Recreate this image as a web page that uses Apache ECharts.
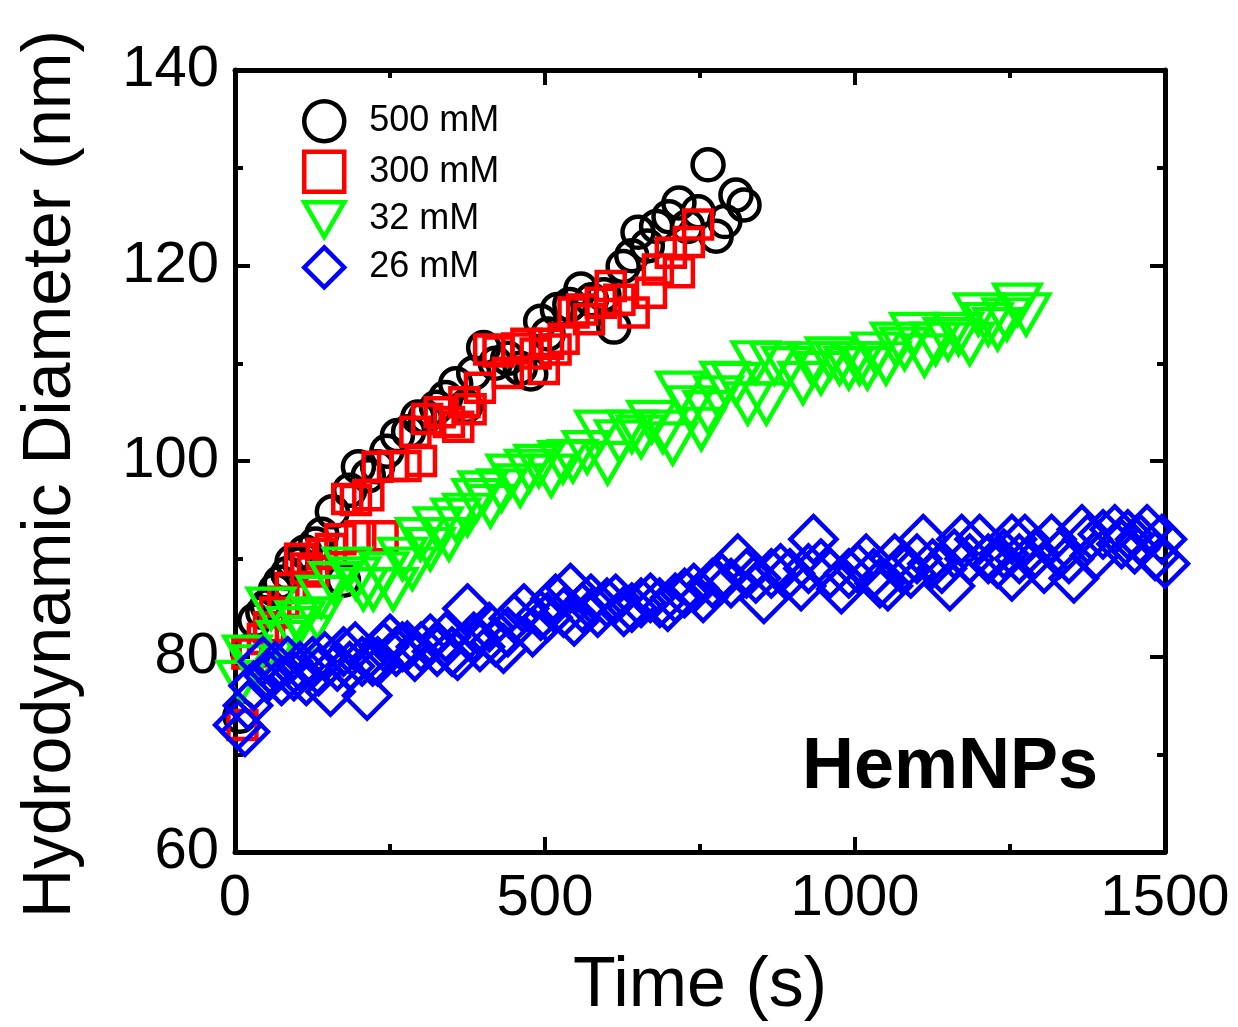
<!DOCTYPE html>
<html>
<head>
<meta charset="utf-8">
<script src="https://cdn.jsdelivr.net/npm/echarts@6/dist/echarts.min.js"></script>
<style>html,body{margin:0;padding:0;background:#fff}#c{width:1238px;height:1027px}</style>
</head>
<body>
<div id="c"></div>
<script>
const seriesNames = ['500 mM', '300 mM', '32 mM', '26 mM'];
const xTicks = [0, 500, 1000, 1500];
const yTicks = [60, 80, 100, 120, 140];

const data500 = [[8,73.9],[20,80.5],[32,83.7],[45,84.5],[52,85.2],[65,86.8],[73,87.6],[85,88.5],[92,89.7],[105,89.5],[113,90.7],[130,91.5],[140,92.5],[157,94.8],[175,87.8],[185,97],[199,99.4],[215,98.5],[230,99.4],[245,101],[262,102.6],[280,103],[295,104.5],[307,104.5],[325,105.5],[340,106.5],[356,107.9],[372,105.6],[385,109],[401,111.6],[420,110],[440,110.5],[460,109.5],[477,108.9],[493,114.3],[505,113],[520,115.5],[540,116],[558,117.6],[575,116.5],[595,117],[611,113.7],[626,119.9],[640,121],[650,123.4],[665,122],[680,124],[700,125],[716,126.4],[730,124],[747,125.5],[763,130.3],[776,123],[790,124.5],[808,127.2],[821,126.2]];

const data300 = [[12,73],[20,80.3],[30,80.5],[45,81.8],[55,83],[65,84.5],[78,85.6],[90,87],[105,90],[115,89],[126,88.7],[140,90.5],[155,91],[170,92],[181,96.1],[195,96],[202,92.3],[215,96.5],[230,99.4],[238,92.3],[255,99.5],[275,99.5],[291,103],[300,100],[310,104.3],[330,105],[345,104],[360,103.5],[370,106],[380,105.3],[395,107.5],[410,111.4],[425,111.2],[440,109],[455,111.5],[470,112],[485,111],[498,109.4],[505,112],[517,111.4],[530,112.5],[546,115.2],[560,115.5],[571,114.5],[590,116.2],[606,117.9],[620,116.5],[643,115.2],[671,117.2],[682,119.6],[703,121.3],[716,119.3],[732,122.4],[747,124.2]];

const data32 = [[10,77.4],[20,80],[37,79],[58,84.9],[75,81.5],[91,82.9],[105,83.5],[116,82],[133,83.9],[139,86.1],[160,87.5],[181,89],[195,88],[207,86.9],[223,86.9],[240,88.5],[255,86.9],[270,90],[286,89],[299,92],[315,91],[328,93.1],[345,92],[356,94],[375,94.5],[390,96],[400,96.8],[412,95.4],[430,97],[445,98.5],[460,97.5],[475,99],[490,99.5],[510,98.5],[529,99.9],[545,100],[568,100.9],[588,103],[601,99.8],[620,102],[640,103],[655,102.5],[672,104],[690,103],[706,101.8],[719,107],[735,105.5],[752,103.3],[763,105],[780,106.5],[790,108],[808,107.9],[827,105.9],[840,110.1],[857,105.9],[870,110],[890,109.5],[916,108],[930,110],[945,109],[960,110.5],[975,110],[990,109.5],[1007,110],[1020,109.5],[1034,111],[1050,110],[1065,112],[1080,111.5],[1096,113],[1112,110.8],[1130,112],[1150,112.5],[1167,113],[1185,112],[1199,115],[1215,114],[1230,113.5],[1245,114.5],[1262,116],[1276,115]];

const data26 = [[5,73],[16,72.3],[21,75],[30,77],[45,79.5],[55,78],[65,79],[75,77.5],[85,79.5],[95,78],[105,79],[115,77.5],[125,79.5],[135,78.5],[145,80],[154,76.4],[165,79],[175,80.5],[185,79],[194,81],[205,79.5],[213,76],[222,79.5],[230,79.5],[240,81],[250,81.8],[260,80.5],[270,81],[278,81.1],[290,80],[300,81],[315,81.8],[326,80.5],[340,82],[350,80.5],[359,80.1],[375,84.9],[385,82],[395,81],[410,83],[420,81.5],[433,80.8],[440,82.5],[450,83.9],[466,84.9],[480,82.5],[493,84.2],[504,84],[517,85.9],[530,84.5],[541,87],[547,83.6],[560,85],[574,85.9],[585,84.5],[600,85.5],[614,85.9],[627,84.6],[640,85],[655,85.5],[670,86],[685,85.5],[698,85.1],[710,86],[725,86.5],[740,87],[755,86],[770,87.5],[785,88],[800,87.5],[811,90],[825,88.5],[840,88],[853,85.9],[865,88.5],[880,89],[895,88.5],[913,87.2],[925,89],[933,92],[945,89.5],[960,88.5],[978,86.9],[990,88.5],[1005,89],[1018,90],[1030,88.5],[1040,87.5],[1053,87.2],[1064,90],[1075,89],[1090,88.5],[1100,90],[1110,92],[1125,89.5],[1140,89],[1153,87.2],[1160,90.5],[1172,92],[1185,90],[1201,92],[1215,90],[1230,89.5],[1240,90.5],[1253,92],[1253,88.2],[1265,90],[1274,92],[1290,90.5],[1305,89],[1317,92],[1330,90.5],[1345,90],[1353,88],[1366,93],[1375,92],[1387,90.3],[1400,92.5],[1419,93],[1430,91.5],[1440,92.5],[1451,91],[1460,92],[1471,93],[1484,90.3],[1495,92],[1500,89.5]];

const FONT = '"Liberation Sans", Arial, sans-serif';
const chart = echarts.init(document.getElementById('c'), null, {renderer: 'canvas'});

function xAxisDef(pos, showLabel) {
  return {
    type: 'value', position: pos, min: xTicks[0], max: xTicks[xTicks.length-1], interval: 500,
    axisLine: {show: true, onZero: false, lineStyle: {color: '#000', width: 5}},
    axisTick: {show: true, inside: true, length: 15, lineStyle: {color: '#000', width: 4}},
    minorTick: {show: true, splitNumber: 2, length: 8, lineStyle: {color: '#000', width: 4}},
    splitLine: {show: false},
    axisLabel: {show: showLabel, fontSize: 58, color: '#000', margin: 18, fontFamily: FONT, showMinLabel: true, showMaxLabel: true,
      formatter: function (v) { return String(v); }},
    name: showLabel ? 'Time (s)' : '', nameLocation: 'middle', nameGap: 100,
    nameTextStyle: {fontSize: 70, color: '#000', fontFamily: FONT}
  };
}
function yAxisDef(pos, showLabel) {
  return {
    type: 'value', position: pos, min: yTicks[0], max: yTicks[yTicks.length-1], interval: 20,
    axisLine: {show: true, onZero: false, lineStyle: {color: '#000', width: 5}},
    axisTick: {show: true, inside: true, length: 15, lineStyle: {color: '#000', width: 4}},
    minorTick: {show: true, splitNumber: 2, length: 8, lineStyle: {color: '#000', width: 4}},
    splitLine: {show: false},
    axisLabel: {show: showLabel, fontSize: 58, color: '#000', margin: 16, fontFamily: FONT, showMinLabel: true, showMaxLabel: true,
      formatter: function (v) { return String(v); }},
    name: showLabel ? 'Hydrodynamic Diameter (nm)' : '', nameLocation: 'middle', nameGap: 150,
    nameTextStyle: {fontSize: 68, color: '#000', fontFamily: FONT, padding: [0, 26, 0, 0]}
  };
}

const triDown = 'path://M0,0L10,0L5,8.66Z';

function sc(name, data, symbol, size, color) {
  return {
    name: name, type: 'scatter', data: data, symbol: symbol, symbolSize: size,
    xAxisIndex: 0, yAxisIndex: 0,
    itemStyle: {color: 'rgba(255,255,255,0)', borderColor: color, borderWidth: 4.5, opacity: 1},
    emphasis: {disabled: true}
  };
}

chart.setOption({
  animation: false,
  backgroundColor: '#fff',
  grid: {left: 235, right: 73, top: 70, bottom: 173, containLabel: false},
  xAxis: [xAxisDef('bottom', true), xAxisDef('top', false)],
  yAxis: [yAxisDef('left', true), yAxisDef('right', false)],
  legend: {
    show: true, orient: 'vertical', left: 297, top: 94,
    itemWidth: 40, itemHeight: 40, itemGap: 6,
    textStyle: {fontSize: 36, color: '#000', fontFamily: FONT, padding: [0, 0, 0, 20]},
    itemStyle: {borderWidth: 4.5},
    data: seriesNames
  },
  series: [
    sc(seriesNames[0], data500, 'circle', 31, '#000000'),
    sc(seriesNames[1], data300, 'rect', 28, '#ff0000'),
    sc(seriesNames[2], data32, triDown, [46, 40], '#00ff00'),
    sc(seriesNames[3], data26, 'diamond', [46, 46], '#0000ff')
  ],
  graphic: [{
    type: 'text', x: 950, y: 768, z: 100,
    style: {text: 'HemNPs', font: 'bold 72px ' + FONT, fill: '#000', align: 'center', verticalAlign: 'middle'}
  }]
});
</script>
</body>
</html>
